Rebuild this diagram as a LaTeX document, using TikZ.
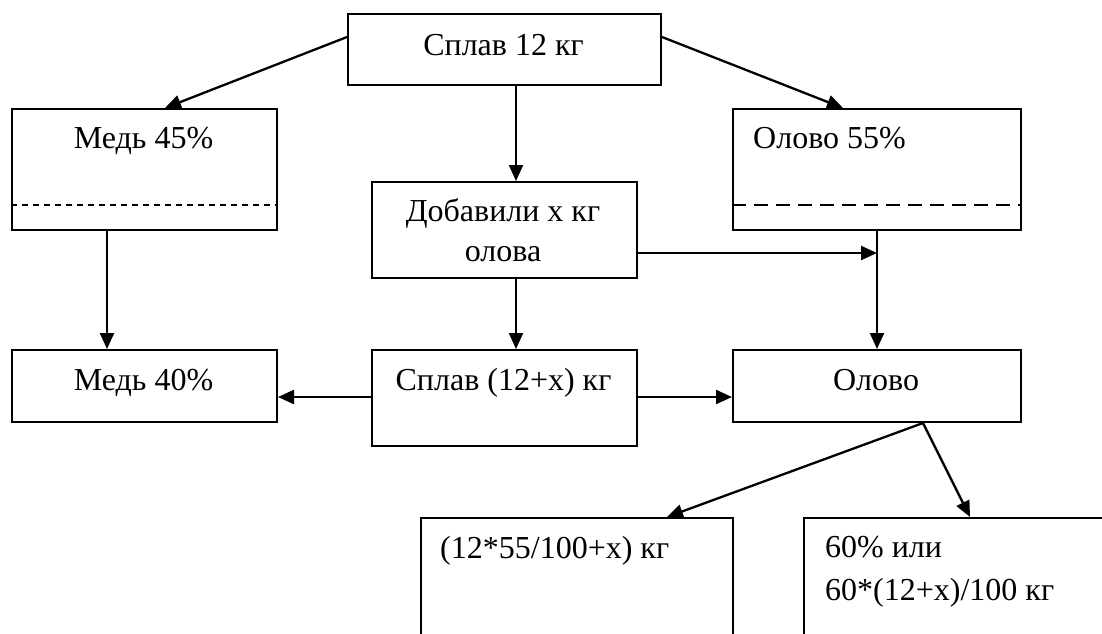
\documentclass[tikz,border=0pt]{standalone}
\usepackage{fontspec}
\setmainfont{Liberation Serif}
\usetikzlibrary{arrows.meta,calc}
\begin{document}
\begin{tikzpicture}[x=1pt,y=-1pt,
  box/.style={draw, line width=2pt, inner sep=0pt, anchor=north west},
  conn/.style={line width=2.3pt},
  arr/.style={conn, -{Triangle[length=16pt,width=14pt]}},
  lbl/.style={font=\fontsize{32}{38}\selectfont, inner sep=0pt, anchor=base},
  dashA/.style={line width=1.7pt, dash pattern=on 6pt off 5pt},
  dashB/.style={line width=1.7pt, dash pattern=on 14pt off 8pt},
]
\useasboundingbox (0,0) rectangle (1102,633);
\fill[white] (0,0) rectangle (1102,633);
\clip (0,0) rectangle (1102,633);
% boxes
\node[box, minimum width=313pt, minimum height=71pt] (top) at (347,13) {};
\node[box, minimum width=265pt, minimum height=121pt] (cu45) at (11,108) {};
\node[box, minimum width=288pt, minimum height=121pt] (sn55) at (732,108) {};
\node[box, minimum width=265pt, minimum height=96pt] (add) at (371,181) {};
\node[box, minimum width=265pt, minimum height=72pt] (cu40) at (11,349) {};
\node[box, minimum width=265pt, minimum height=96pt] (alloy) at (371,349) {};
\node[box, minimum width=288pt, minimum height=72pt] (sn) at (732,349) {};
\node[box, minimum width=312pt, minimum height=140pt] (res1) at (420,517) {};
\node[box, minimum width=330pt, minimum height=140pt] (res2) at (803,517) {};
% dashed separators
\draw[dashA] (cu45.west |- 0,205) -- (cu45.east |- 0,205);
\draw[dashB] (sn55.west |- 0,205) -- (sn55.east |- 0,205);
% texts
\node[lbl] (t1) at (503.5,55) {Сплав 12 кг};
\node[lbl] (t2) at (143.5,148) {Медь 45\%};
\node[lbl, anchor=base west] (t3) at (753,148) {Олово 55\%};
\node[lbl] (t4) at (503,221) {Добавили х кг};
\node[lbl] (t5) at (503,261) {олова};
\node[lbl] (t6) at (143.5,390) {Медь 40\%};
\node[lbl] (t7) at (503.5,390) {Сплав (12+х) кг};
\node[lbl] (t8) at (876,390) {Олово};
\node[lbl, anchor=base west] (t9) at (440,558) {(12*55/100+х) кг};
\node[lbl, anchor=base west] (t10) at (825,557) {60\% или};
\node[lbl, anchor=base west] (t11) at (825,600) {60*(12+х)/100 кг};
% connectors
\coordinate (join) at (sn55.south |- 0,253);
\draw[arr] (top.west |- 0,37) -- (cu45.north -| 165,0);
\draw[arr] (top.east |- 0,37) -- (sn55.north -| 843,0);
\draw[arr] (top.south -| 516,0) -- (add.north -| 516,0);
\draw[arr] (cu45.south -| 107,0) -- (cu40.north -| 107,0);
\draw[arr] (sn55.south) -- (sn.north);
\draw[arr] (add.east |- join) -- (join);
\draw[arr] (add.south -| 516,0) -- (alloy.north -| 516,0);
\draw[arr] (alloy.west |- 0,397) -- (cu40.east |- 0,397);
\draw[arr] (alloy.east |- 0,397) -- (sn.west |- 0,397);
\draw[arr] (sn.south -| 923,0) -- (res1.north -| 667,0);
\draw[arr] (sn.south -| 923,0) -- (res2.north -| 970,0);
\end{tikzpicture}
\end{document}
